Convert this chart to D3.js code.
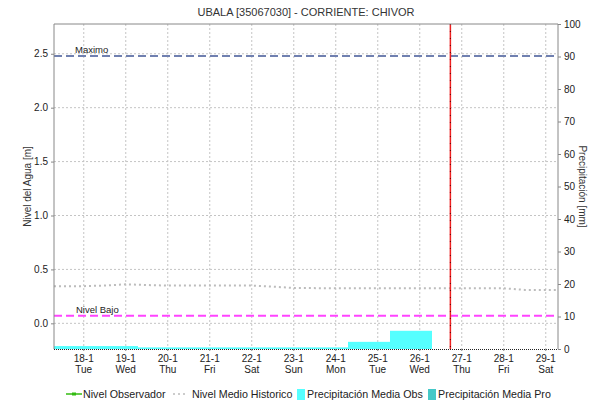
<!DOCTYPE html>
<html><head><meta charset="utf-8">
<script src="https://cdn.jsdelivr.net/npm/d3@7"></script>
<style>body{margin:0;background:#fff;}svg{display:block;font-family:"Liberation Sans",Arial,sans-serif;}</style>
</head><body>
<script>
const title = "UBALA [35067030] - CORRIENTE: CHIVOR";
const tickDays = [18,19,20,21,22,23,24,25,26,27,28,29];
const leftTicks = [0.0,0.5,1.0,1.5,2.0,2.5];
const rightTicks = [0,10,20,30,40,50,60,70,80,90,100];
// precipitation observed: day bars starting 07:00 of given day
const precipDays = [17,18,19,20,21,22,23,24,25];
const precipValues = [0.9,0.9,0.5,0.5,0.5,0.5,0.5,2.2,5.6];
// historic mean level: [day, hour, value]
const histDays =  [17,18,18,19,19,20,21,22,22,23,24,25,26,27,28,28,29];
const histHours = [7, 0, 12,0, 12,0, 0, 0, 12,0, 0, 0, 0, 0, 0, 12,7];
const histValues= [0.345,0.345,0.35,0.362,0.355,0.35,0.35,0.35,0.34,0.328,0.325,0.325,0.325,0.325,0.325,0.31,0.31];
const maximoValue = 2.48;
const bajoValue = 0.07;
const nowDay = 26, nowHour = 17.5;
const legendLabels = ["Nivel Observador","Nivel Medio Historico","Precipitación Media Obs","Precipitación Media Pro"];

const W=590,H=405, L=54,R=558,T=24,B=349;
const svg=d3.select("body").append("svg").attr("width",W).attr("height",H);
const dt=(d,h)=>new Date(2022,0,d,Math.floor(h),Math.round((h%1)*60));
const x=d3.scaleTime().domain([dt(17,7),dt(29,7)]).range([L,R]);
const y=d3.scaleLinear().domain([-0.238,2.776]).range([B,T]);
const y2=d3.scaleLinear().domain([0,100]).range([B,T]);

// grid
const g=svg.append("g");
tickDays.forEach(d=>{g.append("line").attr("x1",x(dt(d,0))).attr("x2",x(dt(d,0))).attr("y1",T).attr("y2",B)
 .attr("stroke","#c4c4c4").attr("stroke-dasharray","2,2");});
leftTicks.forEach(v=>{g.append("line").attr("x1",L).attr("x2",R).attr("y1",y(v)).attr("y2",y(v))
 .attr("stroke","#c4c4c4").attr("stroke-dasharray","2,2");});

// bars
svg.append("g").selectAll("rect").data(precipDays).join("rect")
 .attr("x",d=>x(dt(d,7))).attr("width",d=>x(dt(d+1,7))-x(dt(d,7)))
 .attr("y",(d,i)=>y2(precipValues[i])).attr("height",(d,i)=>B-y2(precipValues[i]))
 .attr("fill","#55ffff");

// historic line
const histData=histDays.map((d,i)=>[dt(d,histHours[i]),histValues[i]]);
svg.append("path").datum(histData).attr("d",d3.line().x(d=>x(d[0])).y(d=>y(d[1])))
 .attr("fill","none").attr("stroke","#bcbcbc").attr("stroke-width",2).attr("stroke-dasharray","2,3");

// reference lines
svg.append("line").attr("x1",L).attr("x2",R).attr("y1",y(maximoValue)).attr("y2",y(maximoValue))
 .attr("stroke","#7080b0").attr("stroke-width",2).attr("stroke-dasharray","8,4");
svg.append("line").attr("x1",L).attr("x2",R).attr("y1",y(bajoValue)).attr("y2",y(bajoValue))
 .attr("stroke","#ff44ff").attr("stroke-width",2).attr("stroke-dasharray","8,4");
svg.append("text").attr("x",75).attr("y",y(maximoValue)-3).attr("font-size",9.5).attr("fill","#222").text("Maximo");
svg.append("text").attr("x",76).attr("y",y(bajoValue)-3).attr("font-size",9.5).attr("fill","#222").text("Nivel Bajo");

// now line
const xn=x(dt(nowDay,nowHour));
svg.append("line").attr("x1",xn).attr("x2",xn).attr("y1",T).attr("y2",B).attr("stroke","#ee2020").attr("stroke-width",1.5);
svg.append("line").attr("x1",xn).attr("x2",xn).attr("y1",T).attr("y2",B).attr("stroke","#600").attr("stroke-width",1).attr("stroke-dasharray","1,6");

// frame
svg.append("line").attr("x1",L).attr("x2",R).attr("y1",T).attr("y2",T).attr("stroke","#888");
svg.append("line").attr("x1",L).attr("x2",R).attr("y1",B+0.5).attr("y2",B+0.5).attr("stroke","#222").attr("stroke-dasharray","1,1");

// axes
const ax=svg.append("g").attr("transform",`translate(${L},0)`)
 .call(d3.axisLeft(y).tickValues(leftTicks).tickFormat(d3.format(".1f")).tickSize(3).tickPadding(3));
const ax2=svg.append("g").attr("transform",`translate(${R},0)`)
 .call(d3.axisRight(y2).tickValues(rightTicks).tickSize(3).tickPadding(3));
[ax,ax2].forEach(a=>{a.select(".domain").attr("stroke","#888").attr("d",`M0,${T}V${B}`);
 a.selectAll(".tick line").attr("stroke","#888");
 a.selectAll("text").attr("font-size",10).attr("fill","#222").attr("font-family","Liberation Sans,Arial,sans-serif");});

// x tick labels
const fmt1=d3.timeFormat("%-d-%-m"), fmt2=d3.timeFormat("%a");
const xt=svg.append("g");
tickDays.forEach(d=>{const t=dt(d,0);
 xt.append("line").attr("x1",x(t)).attr("x2",x(t)).attr("y1",B).attr("y2",B+2).attr("stroke","#888");
 xt.append("text").attr("x",x(t)).attr("y",362).attr("text-anchor","middle").attr("font-size",10).attr("fill","#222").text(fmt1(t));
 xt.append("text").attr("x",x(t)).attr("y",373).attr("text-anchor","middle").attr("font-size",10).attr("fill","#222").text(fmt2(t));
});

// titles
svg.append("text").attr("x",(L+R)/2).attr("y",16).attr("text-anchor","middle").attr("font-size",11).attr("fill","#333").text(title);
svg.append("text").attr("transform",`translate(31,${(T+B)/2}) rotate(-90)`).attr("text-anchor","middle").attr("font-size",10).attr("fill","#333").text("Nivel del Agua [m]");
svg.append("text").attr("transform",`translate(579,${(T+B)/2}) rotate(90)`).attr("text-anchor","middle").attr("font-size",10).attr("fill","#333").text("Precipitación [mm]");

// legend
const lg=svg.append("g").attr("font-size",10.7).attr("fill","#222");
lg.append("line").attr("x1",66).attr("x2",82).attr("y1",394).attr("y2",394).attr("stroke","#33bb11").attr("stroke-width",1.5);
lg.append("rect").attr("x",72).attr("y",392.5).attr("width",4).attr("height",3).attr("fill","#33bb11");
lg.append("text").attr("x",83).attr("y",398).text(legendLabels[0]);
lg.append("line").attr("x1",173).attr("x2",187).attr("y1",394).attr("y2",394).attr("stroke","#bcbcbc").attr("stroke-width",1.5).attr("stroke-dasharray","2,3");
lg.append("text").attr("x",192).attr("y",398).text(legendLabels[1]);
lg.append("rect").attr("x",297).attr("y",389).attr("width",8).attr("height",11).attr("fill","#55ffff");
lg.append("text").attr("x",307).attr("y",398).text(legendLabels[2]);
lg.append("rect").attr("x",428).attr("y",389).attr("width",8).attr("height",11).attr("fill","#44c8c8");
lg.append("text").attr("x",438).attr("y",398).text(legendLabels[3]);
</script>
</body></html>
